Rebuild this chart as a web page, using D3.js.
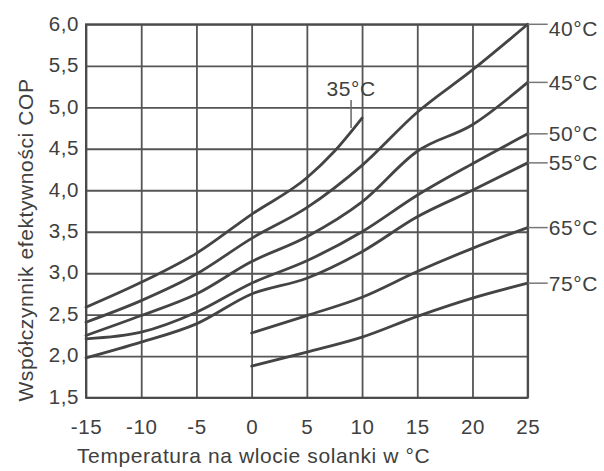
<!DOCTYPE html>
<html>
<head>
<meta charset="utf-8">
<script src="https://cdn.jsdelivr.net/npm/d3@7"></script>
<style>
	body { margin: 0; background: #fff; }
	text { font-family: "Liberation Sans", Arial, sans-serif; fill: #404040; letter-spacing: 0.6px; }
</style>
</head>
<body>
<svg id="chart" width="604" height="471"></svg>
<script>
let w = 604;
let h = 471;
let m = {left: 86, right: 76.3, top: 24.3, bottom: 73.3};

// brine inlet temp (x)
let temps = [-15, -10, -5, 0, 5, 7.5, 10, 15, 20, 25];
// COP, null = no curve there
let cop35 = [2.59, 2.89, 3.24, 3.71, 4.15, 4.47, 4.87, null, null, null];
let cop40 = [2.41, 2.67, 2.99, 3.42, 3.79, null, 4.30, 4.94, 5.45, 6.00];
let cop45 = [2.25, 2.49, 2.75, 3.14, 3.44, null, 3.86, 4.47, 4.79, 5.30];
let cop50 = [2.21, 2.29, 2.53, 2.88, 3.15, null, 3.50, 3.94, 4.32, 4.68];
let cop55 = [1.98, 2.17, 2.39, 2.75, 2.94, null, 3.26, 3.68, 4.00, 4.33];
let cop65 = [null, null, null, 2.28, 2.49, null, 2.71, 3.02, 3.30, 3.55];
let cop75 = [null, null, null, 1.88, 2.05, null, 2.23, 2.48, 2.70, 2.88];

let seriesNames = ["35°C", "40°C", "45°C", "50°C", "55°C", "65°C", "75°C"];
let seriesVals = [cop35, cop40, cop45, cop50, cop55, cop65, cop75];

let xTicks = [-15, -10, -5, 0, 5, 10, 15, 20, 25];
let yTicks = [1.5, 2.0, 2.5, 3.0, 3.5, 4.0, 4.5, 5.0, 5.5, 6.0];

let xTitle = "Temperatura na wlocie solanki w °C";
let yTitle = "Współczynnik efektywności COP";

let iw = w - m.left - m.right;
let ih = h - m.top - m.bottom;

let x = d3.scaleLinear().domain([-15, 25]).range([0, iw]);
let y = d3.scaleLinear().domain([1.5, 6]).range([ih, 0]);

let svg = d3.select("#chart");
let g = svg.append("g").attr("transform", `translate(${m.left},${m.top})`);

// grid
g.append("g")
	.attr("transform", `translate(0,${ih})`)
	.call(d3.axisBottom(x).tickValues(xTicks).tickSize(-ih).tickFormat(""))
	.call(a => a.select(".domain").remove())
	.selectAll("line").attr("stroke", "#555").attr("stroke-width", 1.8);

g.append("g")
	.call(d3.axisLeft(y).tickValues(yTicks).tickSize(-iw).tickFormat(""))
	.call(a => a.select(".domain").remove())
	.selectAll("line").attr("stroke", "#555").attr("stroke-width", 1.8);

g.append("rect")
	.attr("width", iw).attr("height", ih)
	.attr("fill", "none").attr("stroke", "#4a4a4a").attr("stroke-width", 2);

// tick labels
let xa = g.append("g")
	.attr("transform", `translate(0,${ih})`)
	.call(d3.axisBottom(x).tickValues(xTicks).tickSize(0).tickPadding(22).tickFormat(d => d));
xa.select(".domain").remove();
xa.selectAll("text").style("font-size", "20.5px").attr("fill", "#404040");

let ya = g.append("g")
	.call(d3.axisLeft(y).tickValues(yTicks).tickSize(0).tickPadding(7)
		.tickFormat(d => d3.format(".1f")(d).replace(".", ",")));
ya.select(".domain").remove();
ya.selectAll("text").style("font-size", "20.5px").attr("fill", "#404040").attr("dy", "0.28em");

// curves
let line = d3.line()
	.defined(d => d[1] != null)
	.x(d => x(d[0]))
	.y(d => y(d[1]))
	.curve(d3.curveMonotoneX);

g.append("g").selectAll("path")
	.data(seriesVals)
	.join("path")
		.attr("d", vals => line(temps.map((t, i) => [t, vals[i]]).filter(d => d[1] != null)))
		.attr("fill", "none")
		.attr("stroke", "#444")
		.attr("stroke-width", 2.8)
		.attr("stroke-linecap", "round");

// right-side labels (all but 35°C)
let ends = seriesVals.map((vals, i) => ({name: seriesNames[i], v: vals[vals.length - 1]}))
	.filter(d => d.v != null);

let lab = g.append("g").selectAll("g")
	.data(ends)
	.join("g")
		.attr("transform", d => `translate(${iw},${y(d.v)})`);
lab.append("line")
	.attr("x1", 0).attr("x2", 20)
	.attr("stroke", "#777").attr("stroke-width", 1.5);
lab.append("text")
	.attr("x", 21)
	.attr("y", d => Math.max(y(d.v), 4) - y(d.v))
	.attr("dy", "0.36em")
	.style("font-size", "21px")
	.text(d => d.name);

// 35°C label with leader
let t35 = temps[6];
let v35 = cop35[6];
let lx = x(t35) - 11;
let ly = y(v35 - 0.12);
g.append("line")
	.attr("x1", lx).attr("x2", lx)
	.attr("y1", ly).attr("y2", ly - 28)
	.attr("stroke", "#666").attr("stroke-width", 1.5);
g.append("text")
	.attr("x", lx).attr("y", ly - 32)
	.attr("text-anchor", "middle")
	.style("font-size", "21px")
	.text(seriesNames[0]);

// axis titles
svg.append("text")
	.attr("x", 77).attr("y", 463)
	.style("font-size", "21px")
	.text(xTitle);

svg.append("text")
	.attr("transform", "translate(33,240) rotate(-90)")
	.attr("text-anchor", "middle")
	.style("font-size", "21px")
	.text(yTitle);
</script>
</body>
</html>
